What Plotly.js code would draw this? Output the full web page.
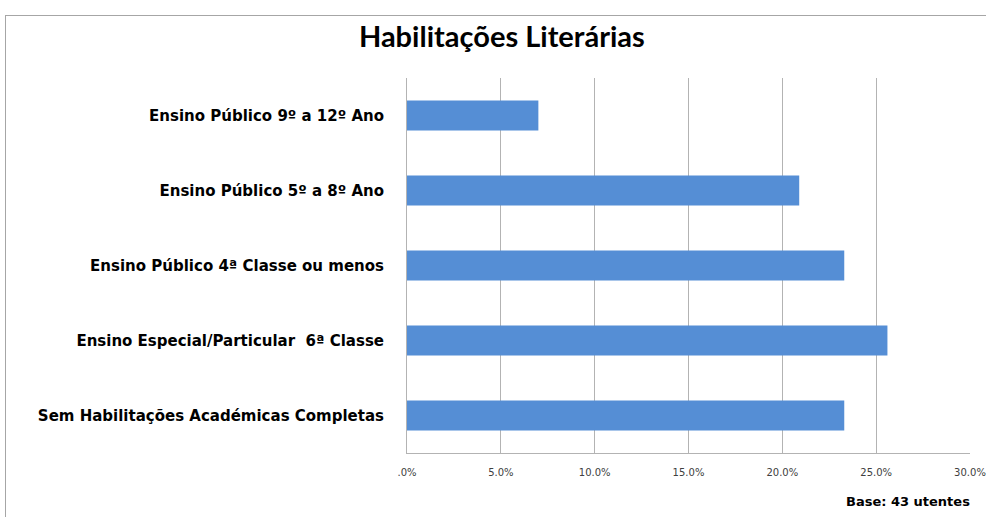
<!DOCTYPE html>
<html>
<head>
<meta charset="utf-8">
<script src="https://cdn.plot.ly/plotly-3.0.1.min.js"></script>
<style>
html,body{margin:0;padding:0;background:#fff;}
#wrap{position:relative;width:986px;height:517px;}
#chart{width:986px;height:517px;}
#frame{position:absolute;left:5px;top:15px;width:990px;height:520px;border-left:1.5px solid #a6a6a6;border-top:1.5px solid #a6a6a6;pointer-events:none;}
</style>
</head>
<body>
<div id="wrap"><div id="chart"></div><div id="frame"></div></div>
<script>
const categories = [
  "Sem Habilitações Académicas Completas",
  "Ensino Especial/Particular  6ª Classe",
  "Ensino Público 4ª Classe ou menos",
  "Ensino Público 5º a 8º Ano",
  "Ensino Público 9º a 12º Ano"
];
const percentages = [23.3, 25.6, 23.3, 20.9, 7.0];
const tickValues = [0, 5, 10, 15, 20, 25, 30];
const tickLabels = [".0%", "5.0%", "10.0%", "15.0%", "20.0%", "25.0%", "30.0%"];
const chartTitle = "Habilitações Literárias";
const baseNote = "Base: 43 utentes";

const trace = {
  type: "bar",
  orientation: "h",
  y: categories,
  x: percentages,
  width: 0.4,
  marker: {color: "#558ed5"},
  hoverinfo: "x+y"
};

const layout = {
  width: 986, height: 517,
  margin: {l: 407, r: 16, t: 78, b: 64},
  paper_bgcolor: "#ffffff",
  plot_bgcolor: "#ffffff",
  showlegend: false,
  title: {
    text: chartTitle,
    font: {family: "Lato, 'Open Sans', sans-serif", size: 29, color: "#000000", weight: "bold"},
    x: 0.509, xanchor: "center", xref: "container",
    y: 0.929, yanchor: "middle", yref: "container"
  },
  xaxis: {
    range: [0, 30],
    tickvals: tickValues,
    ticktext: tickLabels,
    showgrid: true,
    gridcolor: "#b3b3b3",
    gridwidth: 1,
    zeroline: false,
    showline: true,
    linecolor: "#b3b3b3",
    linewidth: 1,
    ticks: "",
    ticklabelstandoff: 10,
    tickfont: {family: "'DejaVu Sans', sans-serif", size: 10, color: "#404040"},
    fixedrange: true
  },
  yaxis: {
    type: "category",
    categoryorder: "array",
    categoryarray: categories,
    showgrid: false,
    zeroline: false,
    showline: true,
    linecolor: "#b3b3b3",
    linewidth: 1,
    ticks: "",
    ticklabelstandoff: 19,
    tickfont: {family: "'DejaVu Sans', sans-serif", size: 15, color: "#000000", weight: "bold"},
    fixedrange: true
  },
  annotations: [{
    text: "<b>" + baseNote + "</b>",
    xref: "paper", yref: "paper",
    x: 1.004, y: -0.13,
    xanchor: "right", yanchor: "middle",
    showarrow: false,
    font: {family: "'DejaVu Sans', sans-serif", size: 13, color: "#000000"}
  }]
};

Plotly.newPlot("chart", [trace], layout, {displayModeBar: false, staticPlot: true});
</script>
</body>
</html>
